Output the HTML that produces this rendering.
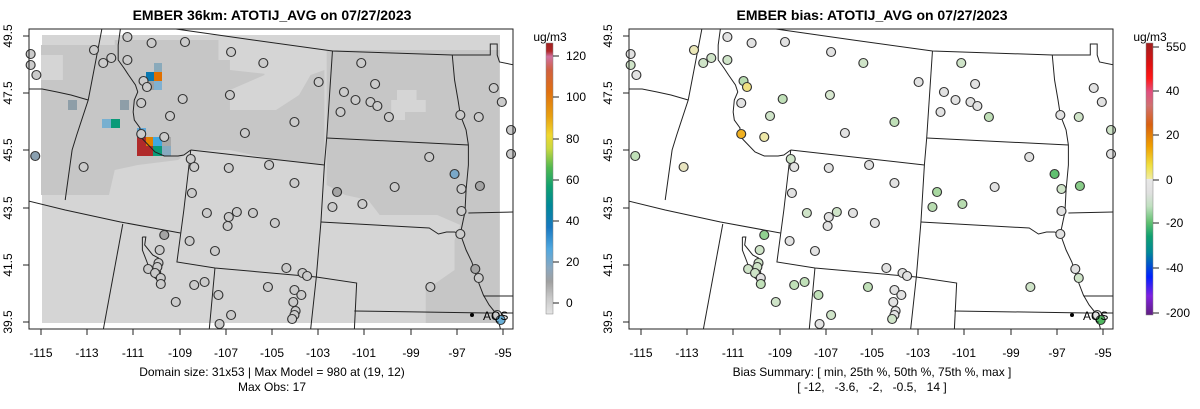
<!DOCTYPE html>
<html><head><meta charset="utf-8"><style>
body{margin:0;background:#fff;}
svg{display:block;font-family:"Liberation Sans",sans-serif;}
</style></head><body>
<svg width="1200" height="409" viewBox="0 0 1200 409" xmlns="http://www.w3.org/2000/svg">
<defs>
<clipPath id="cl"><rect x="25.6" y="29" width="420" height="300"/></clipPath>
<linearGradient id="g1" x1="0" y1="1" x2="0" y2="0">
<stop offset="0" stop-color="#e4e4e4"/><stop offset="0.06" stop-color="#c8c8c8"/><stop offset="0.12" stop-color="#a0a0a0"/>
<stop offset="0.17" stop-color="#8aa8c0"/><stop offset="0.24" stop-color="#50a8e0"/><stop offset="0.32" stop-color="#1878c0"/>
<stop offset="0.4" stop-color="#008898"/><stop offset="0.47" stop-color="#10a070"/><stop offset="0.54" stop-color="#50b850"/>
<stop offset="0.61" stop-color="#c8d840"/><stop offset="0.66" stop-color="#f0d830"/><stop offset="0.73" stop-color="#e8a010"/>
<stop offset="0.82" stop-color="#e07010"/><stop offset="0.9" stop-color="#d06040"/><stop offset="0.95" stop-color="#d070a0"/>
<stop offset="0.97" stop-color="#b02828"/><stop offset="1" stop-color="#a02020"/></linearGradient>
<linearGradient id="g2" x1="0" y1="0" x2="0" y2="1">
<stop offset="0" stop-color="#a02020"/><stop offset="0.08" stop-color="#e01010"/><stop offset="0.13" stop-color="#ff1818"/>
<stop offset="0.18" stop-color="#e05080"/><stop offset="0.23" stop-color="#d07070"/><stop offset="0.3" stop-color="#d86010"/>
<stop offset="0.38" stop-color="#f0a000"/><stop offset="0.45" stop-color="#f0e040"/><stop offset="0.5" stop-color="#f0eca0"/>
<stop offset="0.5" stop-color="#e8e8e8"/><stop offset="0.55" stop-color="#e0e0e0"/><stop offset="0.6" stop-color="#c0e0c0"/>
<stop offset="0.66" stop-color="#60c070"/><stop offset="0.71" stop-color="#10a070"/><stop offset="0.77" stop-color="#008898"/>
<stop offset="0.86" stop-color="#0020ff"/><stop offset="0.93" stop-color="#8020e0"/><stop offset="1" stop-color="#602080"/></linearGradient>
<g id="lines" fill="none" stroke="#222" stroke-width="1" clip-path="url(#cl)">
<polyline vector-effect="non-scaling-stroke" points="147,28 220,40 289,51 393,55 426,55 426,44 432,44 432,55 434,62 447,65"/>
<polyline vector-effect="non-scaling-stroke" points="89,28 77,100 67,135 63,150 57,200"/>
<polyline vector-effect="non-scaling-stroke" points="25,89 37,89 50,92 62,95 77,100"/>
<polyline vector-effect="non-scaling-stroke" points="105,28 103,45 103,60 108,68 112,75 118,85 120,92 117,100 116,112 117,120 122,128 121,135 125,140 130,146 135,152 143,156 155,156 160,155 166,150"/>
<polyline vector-effect="non-scaling-stroke" points="25,201 57,210 105,222 157,233"/>
<polyline vector-effect="non-scaling-stroke" points="107,224 90,330"/>
<polyline vector-effect="non-scaling-stroke" points="166,150 282,165"/>
<polyline vector-effect="non-scaling-stroke" points="289,51 284,138 282,165 279,222 275,277 270,330"/>
<polyline vector-effect="non-scaling-stroke" points="166,150 160,210 154,262 187,268 275,277 310,283 308,330"/>
<polyline vector-effect="non-scaling-stroke" points="187,268 182,330"/>
<polyline vector-effect="non-scaling-stroke" points="284,138 407,145"/>
<polyline vector-effect="non-scaling-stroke" points="279,222 373,228 381,234 388,232 395,232 400,234"/>
<polyline vector-effect="non-scaling-stroke" points="393,55 395,80 398,100 400,115 405,130 407,145 407,165 405,190 404,212 400,234 405,250 410,262 415,280 420,295 425,305 432,315 435,330"/>
<polyline vector-effect="non-scaling-stroke" points="407,213 447,212"/>
<polyline vector-effect="non-scaling-stroke" points="420,296 447,296"/>
<polyline vector-effect="non-scaling-stroke" points="308,311 423,313 447,313"/>
<polyline vector-effect="non-scaling-stroke" points="124,237 127,237 126,245 133,255 138,258 136,265 140,272 137,280 132,275 128,262 124,250 124,237"/>
</g>
</defs>

<text x="272" y="20" font-size="14" font-weight="bold" text-anchor="middle">EMBER 36km: ATOTIJ_AVG on 07/27/2023</text>
<text x="872" y="20" font-size="14" font-weight="bold" text-anchor="middle">EMBER bias: ATOTIJ_AVG on 07/27/2023</text>

<!-- LEFT raster -->
<rect x="42" y="35" width="458" height="288" fill="#d5d5d5"/>
<g transform="translate(41,0) scale(1.152,1) translate(-36,0)" clip-path="url(#cl)">
<polygon fill="#c6c6c6" points="36,45 100,45 100,40 190,40 190,60 230,60 230,75 200,90 200,110 240,110 260,95 270,75 282,70 282,165 240,160 200,150 166,150 155,160 120,165 100,170 95,195 36,195"/>
<polygon fill="#d5d5d5" points="36,55 55,55 55,80 36,80"/>
<polygon fill="#d5d5d5" points="200,40 280,40 280,60 240,75 200,70"/>
<polygon fill="#c6c6c6" points="284,50 434,50 434,323 370,323 370,290 395,270 395,240 400,225 380,215 330,215 320,200 300,195 284,185"/>
<polygon fill="#d5d5d5" points="345,90 362,90 362,100 370,100 370,112 352,112 352,120 340,120 340,100 345,100"/>
</g>
<g>
<rect x="120" y="100" width="9" height="10" fill="#8e9ea8"/>
<rect x="146" y="72" width="8" height="9" fill="#0a78b0"/>
<rect x="154" y="72" width="8" height="9" fill="#e07000"/>
<rect x="154" y="81" width="8" height="9" fill="#80b0d0"/>
<rect x="154" y="63" width="8" height="9" fill="#8aaabb"/>
<rect x="146" y="81" width="8" height="9" fill="#a0a0a0"/>
<rect x="68" y="100" width="9" height="10" fill="#8e9ea8"/>
<rect x="102" y="119" width="9" height="9" fill="#78b0d0"/>
<rect x="111" y="119" width="9" height="9" fill="#0a9a78"/>
<rect x="137" y="128" width="9" height="9" fill="#60a8d8"/>
<rect x="137" y="137" width="16" height="19" fill="#b02a2a"/>
<rect x="146" y="137" width="7" height="9" fill="#e08000"/>
<rect x="153" y="137" width="9" height="9" fill="#40a8e0"/>
<rect x="153" y="146" width="9" height="10" fill="#0a9a78"/>
<rect x="162" y="146" width="9" height="10" fill="#88aac0"/>
<rect x="162" y="137" width="9" height="9" fill="#a8a8a8"/>
</g>
<g transform="translate(41,0) scale(1.152,1) translate(-36,0)">
<use href="#lines"/>
<g stroke="#333" fill="#cbcbcb" vector-effect="non-scaling-stroke">
<ellipse cx="111" cy="37" rx="3.9" ry="4.5"/><ellipse cx="132" cy="43" rx="3.9" ry="4.5"/><ellipse cx="161" cy="42" rx="3.9" ry="4.5"/><ellipse cx="82" cy="50" rx="3.9" ry="4.5"/>
<ellipse cx="97" cy="58" rx="3.9" ry="4.5"/><ellipse cx="90" cy="63" rx="3.9" ry="4.5"/><ellipse cx="111" cy="60" rx="3.9" ry="4.5"/><ellipse cx="201" cy="52" rx="3.9" ry="4.5"/>
<ellipse cx="229" cy="63" rx="3.9" ry="4.5"/><ellipse cx="27" cy="54" rx="3.9" ry="4.5"/><ellipse cx="27" cy="65" rx="3.9" ry="4.5"/><ellipse cx="32" cy="75" rx="3.9" ry="4.5"/>
<ellipse cx="125" cy="81" rx="3.9" ry="4.5"/><ellipse cx="128" cy="87" rx="3.9" ry="4.5"/><ellipse cx="123" cy="103" rx="3.9" ry="4.5"/><ellipse cx="159" cy="99" rx="3.9" ry="4.5"/>
<ellipse cx="200" cy="95" rx="3.9" ry="4.5"/><ellipse cx="148" cy="116" rx="3.9" ry="4.5"/><ellipse cx="277" cy="82" rx="3.9" ry="4.5"/><ellipse cx="314" cy="63" rx="3.9" ry="4.5"/>
<ellipse cx="326" cy="84" rx="3.9" ry="4.5"/><ellipse cx="299" cy="92" rx="3.9" ry="4.5"/><ellipse cx="309" cy="100" rx="3.9" ry="4.5"/><ellipse cx="322" cy="102" rx="3.9" ry="4.5"/>
<ellipse cx="328" cy="106" rx="3.9" ry="4.5"/><ellipse cx="296" cy="112" rx="3.9" ry="4.5"/><ellipse cx="338" cy="117" rx="3.9" ry="4.5"/><ellipse cx="256" cy="122" rx="3.9" ry="4.5"/>
<ellipse cx="213" cy="133" rx="3.9" ry="4.5"/><ellipse cx="123" cy="134" rx="3.9" ry="4.5"/><ellipse cx="143" cy="137" rx="3.9" ry="4.5"/><ellipse cx="31" cy="156" rx="3.9" ry="4.5" fill="#8aa0b0"/>
<ellipse cx="73" cy="167" rx="3.9" ry="4.5"/><ellipse cx="166" cy="159" rx="3.9" ry="4.5"/><ellipse cx="169" cy="167" rx="3.9" ry="4.5"/><ellipse cx="199" cy="168" rx="3.9" ry="4.5"/>
<ellipse cx="234" cy="165" rx="3.9" ry="4.5"/><ellipse cx="256" cy="183" rx="3.9" ry="4.5"/><ellipse cx="167" cy="193" rx="3.9" ry="4.5"/><ellipse cx="373" cy="157" rx="3.9" ry="4.5"/>
<ellipse cx="395" cy="174" rx="3.9" ry="4.5" fill="#7aa8c8"/><ellipse cx="417" cy="186" rx="3.9" ry="4.5" fill="#a4a4a4"/><ellipse cx="401" cy="189" rx="3.9" ry="4.5"/><ellipse cx="343" cy="187" rx="3.9" ry="4.5"/>
<ellipse cx="293" cy="192" rx="3.9" ry="4.5" fill="#a4a4a4"/><ellipse cx="315" cy="204" rx="3.9" ry="4.5"/><ellipse cx="289" cy="207" rx="3.9" ry="4.5"/><ellipse cx="401" cy="211" rx="3.9" ry="4.5"/>
<ellipse cx="400" cy="234" rx="3.9" ry="4.5"/><ellipse cx="429" cy="88" rx="3.9" ry="4.5"/><ellipse cx="436" cy="102" rx="3.9" ry="4.5"/><ellipse cx="400" cy="115" rx="3.9" ry="4.5"/>
<ellipse cx="416" cy="117" rx="3.9" ry="4.5"/><ellipse cx="444" cy="130" rx="3.9" ry="4.5"/><ellipse cx="444" cy="154" rx="3.9" ry="4.5"/><ellipse cx="180" cy="213" rx="3.9" ry="4.5"/>
<ellipse cx="199" cy="217" rx="3.9" ry="4.5"/><ellipse cx="206" cy="212" rx="3.9" ry="4.5"/><ellipse cx="220" cy="213" rx="3.9" ry="4.5"/><ellipse cx="198" cy="226" rx="3.9" ry="4.5"/>
<ellipse cx="239" cy="223" rx="3.9" ry="4.5"/><ellipse cx="143" cy="235" rx="3.9" ry="4.5" fill="#a4a4a4"/><ellipse cx="165" cy="241" rx="3.9" ry="4.5"/><ellipse cx="187" cy="251" rx="3.9" ry="4.5"/>
<ellipse cx="139" cy="250" rx="3.9" ry="4.5"/><ellipse cx="138" cy="263" rx="3.9" ry="4.5"/><ellipse cx="137" cy="267" rx="3.9" ry="4.5"/><ellipse cx="129" cy="269" rx="3.9" ry="4.5"/>
<ellipse cx="135" cy="273" rx="3.9" ry="4.5"/><ellipse cx="140" cy="278" rx="3.9" ry="4.5"/><ellipse cx="140" cy="284" rx="3.9" ry="4.5"/><ellipse cx="249" cy="268" rx="3.9" ry="4.5"/>
<ellipse cx="263" cy="273" rx="3.9" ry="4.5"/><ellipse cx="267" cy="276" rx="3.9" ry="4.5"/><ellipse cx="169" cy="285" rx="3.9" ry="4.5"/><ellipse cx="178" cy="282" rx="3.9" ry="4.5"/>
<ellipse cx="153" cy="302" rx="3.9" ry="4.5"/><ellipse cx="190" cy="295" rx="3.9" ry="4.5"/><ellipse cx="233" cy="287" rx="3.9" ry="4.5"/><ellipse cx="256" cy="290" rx="3.9" ry="4.5"/>
<ellipse cx="262" cy="295" rx="3.9" ry="4.5"/><ellipse cx="255" cy="302" rx="3.9" ry="4.5"/><ellipse cx="257" cy="311" rx="3.9" ry="4.5"/><ellipse cx="256" cy="315" rx="3.9" ry="4.5"/>
<ellipse cx="254" cy="319" rx="3.9" ry="4.5"/><ellipse cx="201" cy="315" rx="3.9" ry="4.5"/><ellipse cx="191" cy="324" rx="3.9" ry="4.5"/><ellipse cx="374" cy="287" rx="3.9" ry="4.5"/>
<ellipse cx="413" cy="269" rx="3.9" ry="4.5" fill="#a4a4a4"/><ellipse cx="416" cy="278" rx="3.9" ry="4.5"/><ellipse cx="432" cy="315" rx="3.9" ry="4.5"/><ellipse cx="435" cy="320" rx="3.9" ry="4.5" fill="#6ab0d8"/>
</g></g>
<rect x="29" y="29" width="484" height="300" fill="none" stroke="#222" stroke-width="1"/>
<circle cx="472" cy="315" r="2" fill="#000"/>
<text x="483" y="320" font-size="12">AQS</text>

<!-- RIGHT -->
<g transform="translate(641,0) scale(1.152,1) translate(-36,0)">
<use href="#lines"/>
<g stroke="#333" fill="#e2e2e2" vector-effect="non-scaling-stroke">
<ellipse cx="111" cy="37" rx="3.9" ry="4.5"/><ellipse cx="132" cy="43" rx="3.9" ry="4.5"/><ellipse cx="161" cy="42" rx="3.9" ry="4.5"/><ellipse cx="82" cy="50" rx="3.9" ry="4.5" fill="#ece8b8"/>
<ellipse cx="97" cy="58" rx="3.9" ry="4.5" fill="#cfe4c8"/><ellipse cx="90" cy="63" rx="3.9" ry="4.5" fill="#cfe4c8"/><ellipse cx="111" cy="60" rx="3.9" ry="4.5" fill="#cfe4c8"/><ellipse cx="201" cy="52" rx="3.9" ry="4.5"/>
<ellipse cx="229" cy="63" rx="3.9" ry="4.5" fill="#cfe4c8"/><ellipse cx="27" cy="54" rx="3.9" ry="4.5"/><ellipse cx="27" cy="65" rx="3.9" ry="4.5" fill="#cfe4c8"/><ellipse cx="32" cy="75" rx="3.9" ry="4.5"/>
<ellipse cx="125" cy="81" rx="3.9" ry="4.5" fill="#b8dcb0"/><ellipse cx="128" cy="87" rx="3.9" ry="4.5" fill="#f0e080"/><ellipse cx="123" cy="103" rx="3.9" ry="4.5"/><ellipse cx="159" cy="99" rx="3.9" ry="4.5" fill="#c0e0b8"/>
<ellipse cx="200" cy="95" rx="3.9" ry="4.5" fill="#d8e8d0"/><ellipse cx="148" cy="116" rx="3.9" ry="4.5" fill="#cfe4c8"/><ellipse cx="277" cy="82" rx="3.9" ry="4.5"/><ellipse cx="314" cy="63" rx="3.9" ry="4.5" fill="#cfe4c8"/>
<ellipse cx="326" cy="84" rx="3.9" ry="4.5"/><ellipse cx="299" cy="92" rx="3.9" ry="4.5"/><ellipse cx="309" cy="100" rx="3.9" ry="4.5"/><ellipse cx="322" cy="102" rx="3.9" ry="4.5"/>
<ellipse cx="328" cy="106" rx="3.9" ry="4.5"/><ellipse cx="296" cy="112" rx="3.9" ry="4.5"/><ellipse cx="338" cy="117" rx="3.9" ry="4.5" fill="#c0e0b8"/><ellipse cx="256" cy="122" rx="3.9" ry="4.5" fill="#c0e0b8"/>
<ellipse cx="213" cy="133" rx="3.9" ry="4.5"/><ellipse cx="123" cy="134" rx="3.9" ry="4.5" fill="#f0b020"/><ellipse cx="143" cy="137" rx="3.9" ry="4.5" fill="#eee8a8"/><ellipse cx="31" cy="156" rx="3.9" ry="4.5" fill="#c0e0b8"/>
<ellipse cx="73" cy="167" rx="3.9" ry="4.5" fill="#e8e4c0"/><ellipse cx="166" cy="159" rx="3.9" ry="4.5" fill="#cfe4c8"/><ellipse cx="169" cy="167" rx="3.9" ry="4.5"/><ellipse cx="199" cy="168" rx="3.9" ry="4.5"/>
<ellipse cx="234" cy="165" rx="3.9" ry="4.5"/><ellipse cx="256" cy="183" rx="3.9" ry="4.5"/><ellipse cx="167" cy="193" rx="3.9" ry="4.5"/><ellipse cx="373" cy="157" rx="3.9" ry="4.5"/>
<ellipse cx="395" cy="174" rx="3.9" ry="4.5" fill="#60c070"/><ellipse cx="417" cy="186" rx="3.9" ry="4.5" fill="#88cc88"/><ellipse cx="401" cy="189" rx="3.9" ry="4.5" fill="#cfe4c8"/><ellipse cx="343" cy="187" rx="3.9" ry="4.5"/>
<ellipse cx="293" cy="192" rx="3.9" ry="4.5" fill="#a8d8a0"/><ellipse cx="315" cy="204" rx="3.9" ry="4.5" fill="#b8dcb0"/><ellipse cx="289" cy="207" rx="3.9" ry="4.5" fill="#b8dcb0"/><ellipse cx="401" cy="211" rx="3.9" ry="4.5"/>
<ellipse cx="400" cy="234" rx="3.9" ry="4.5"/><ellipse cx="429" cy="88" rx="3.9" ry="4.5"/><ellipse cx="436" cy="102" rx="3.9" ry="4.5"/><ellipse cx="400" cy="115" rx="3.9" ry="4.5"/>
<ellipse cx="416" cy="117" rx="3.9" ry="4.5" fill="#cfe4c8"/><ellipse cx="444" cy="130" rx="3.9" ry="4.5" fill="#cfe4c8"/><ellipse cx="444" cy="154" rx="3.9" ry="4.5"/><ellipse cx="180" cy="213" rx="3.9" ry="4.5" fill="#cfe4c8"/>
<ellipse cx="199" cy="217" rx="3.9" ry="4.5"/><ellipse cx="206" cy="212" rx="3.9" ry="4.5" fill="#cfe4c8"/><ellipse cx="220" cy="213" rx="3.9" ry="4.5"/><ellipse cx="198" cy="226" rx="3.9" ry="4.5"/>
<ellipse cx="239" cy="223" rx="3.9" ry="4.5"/><ellipse cx="143" cy="235" rx="3.9" ry="4.5" fill="#90d090"/><ellipse cx="165" cy="241" rx="3.9" ry="4.5"/><ellipse cx="187" cy="251" rx="3.9" ry="4.5"/>
<ellipse cx="139" cy="250" rx="3.9" ry="4.5" fill="#cfe4c8"/><ellipse cx="138" cy="263" rx="3.9" ry="4.5" fill="#cfe4c8"/><ellipse cx="137" cy="267" rx="3.9" ry="4.5" fill="#cfe4c8"/><ellipse cx="129" cy="269" rx="3.9" ry="4.5" fill="#cfe4c8"/>
<ellipse cx="135" cy="273" rx="3.9" ry="4.5" fill="#cfe4c8"/><ellipse cx="140" cy="278" rx="3.9" ry="4.5"/><ellipse cx="140" cy="284" rx="3.9" ry="4.5" fill="#c0e0b8"/><ellipse cx="249" cy="268" rx="3.9" ry="4.5"/>
<ellipse cx="263" cy="273" rx="3.9" ry="4.5"/><ellipse cx="267" cy="276" rx="3.9" ry="4.5"/><ellipse cx="169" cy="285" rx="3.9" ry="4.5" fill="#c0e0b8"/><ellipse cx="178" cy="282" rx="3.9" ry="4.5" fill="#c0e0b8"/>
<ellipse cx="153" cy="302" rx="3.9" ry="4.5" fill="#cfe4c8"/><ellipse cx="190" cy="295" rx="3.9" ry="4.5" fill="#c0e0b8"/><ellipse cx="233" cy="287" rx="3.9" ry="4.5" fill="#c0e0b8"/><ellipse cx="256" cy="290" rx="3.9" ry="4.5"/>
<ellipse cx="262" cy="295" rx="3.9" ry="4.5"/><ellipse cx="255" cy="302" rx="3.9" ry="4.5"/><ellipse cx="257" cy="311" rx="3.9" ry="4.5"/><ellipse cx="256" cy="315" rx="3.9" ry="4.5"/>
<ellipse cx="254" cy="319" rx="3.9" ry="4.5" fill="#cfe4c8"/><ellipse cx="201" cy="315" rx="3.9" ry="4.5" fill="#cfe4c8"/><ellipse cx="191" cy="324" rx="3.9" ry="4.5"/><ellipse cx="374" cy="287" rx="3.9" ry="4.5" fill="#cfe4c8"/>
<ellipse cx="413" cy="269" rx="3.9" ry="4.5"/><ellipse cx="416" cy="278" rx="3.9" ry="4.5" fill="#cfe4c8"/><ellipse cx="432" cy="315" rx="3.9" ry="4.5"/><ellipse cx="435" cy="320" rx="3.9" ry="4.5" fill="#50b860"/>
</g></g>
<rect x="629" y="29" width="484" height="300" fill="none" stroke="#222" stroke-width="1"/>
<circle cx="1072" cy="315" r="2" fill="#000"/>
<text x="1083" y="320" font-size="12">AQS</text>

<g stroke="#222" stroke-width="1">
<path d="M23,36H29M23,93H29M23,150H29M23,208H29M23,265H29M23,322H29"/>
<path d="M41,329V335M87,329V335M133,329V335M180,329V335M226,329V335M272,329V335M318,329V335M364,329V335M411,329V335M457,329V335M503,329V335"/>
<path d="M623,36H629M623,93H629M623,150H629M623,208H629M623,265H629M623,322H629"/>
<path d="M641,329V335M687,329V335M733,329V335M780,329V335M826,329V335M872,329V335M918,329V335M964,329V335M1011,329V335M1057,329V335M1103,329V335"/>
</g>
<g font-size="12" text-anchor="middle">
<text transform="translate(12,36) rotate(-90)">49.5</text><text transform="translate(12,93) rotate(-90)">47.5</text>
<text transform="translate(12,150) rotate(-90)">45.5</text><text transform="translate(12,208) rotate(-90)">43.5</text>
<text transform="translate(12,265) rotate(-90)">41.5</text><text transform="translate(12,322) rotate(-90)">39.5</text>
<text transform="translate(612,36) rotate(-90)">49.5</text><text transform="translate(612,93) rotate(-90)">47.5</text>
<text transform="translate(612,150) rotate(-90)">45.5</text><text transform="translate(612,208) rotate(-90)">43.5</text>
<text transform="translate(612,265) rotate(-90)">41.5</text><text transform="translate(612,322) rotate(-90)">39.5</text>
<text x="41" y="357">-115</text><text x="87" y="357">-113</text><text x="133" y="357">-111</text><text x="180" y="357">-109</text>
<text x="226" y="357">-107</text><text x="272" y="357">-105</text><text x="318" y="357">-103</text><text x="364" y="357">-101</text>
<text x="411" y="357">-99</text><text x="457" y="357">-97</text><text x="503" y="357">-95</text>
<text x="641" y="357">-115</text><text x="687" y="357">-113</text><text x="733" y="357">-111</text><text x="780" y="357">-109</text>
<text x="826" y="357">-107</text><text x="872" y="357">-105</text><text x="918" y="357">-103</text><text x="964" y="357">-101</text>
<text x="1011" y="357">-99</text><text x="1057" y="357">-97</text><text x="1103" y="357">-95</text>
<text x="272" y="376">Domain size: 31x53 | Max Model = 980 at (19, 12)</text>
<text x="272" y="391">Max Obs: 17</text>
<text x="872" y="376">Bias Summary: [ min, 25th %, 50th %, 75th %, max ]</text>
<text x="872" y="391" xml:space="preserve">[ -12,   -3.6,   -2,   -0.5,   14 ]</text>
</g>

<text x="550" y="41" font-size="12" text-anchor="middle">ug/m3</text>
<rect x="546" y="43" width="7" height="271" fill="url(#g1)" stroke="#888" stroke-width="0.5"/>
<g stroke="#222"><path d="M553,303H559M553,262H559M553,221H559M553,180H559M553,139H559M553,97H559M553,56H559"/></g>
<g font-size="12"><text x="566" y="307">0</text><text x="566" y="266">20</text><text x="566" y="225">40</text><text x="566" y="184">60</text><text x="566" y="143">80</text><text x="566" y="101">100</text><text x="566" y="60">120</text></g>

<text x="1150" y="41" font-size="12" text-anchor="middle">ug/m3</text>
<rect x="1146" y="43" width="7" height="272" fill="url(#g2)" stroke="#888" stroke-width="0.5"/>
<g stroke="#222"><path d="M1153,47H1159M1153,91H1159M1153,135H1159M1153,180H1159M1153,223H1159M1153,268H1159M1153,313H1159"/></g>
<g font-size="12"><text x="1166" y="51">550</text><text x="1166" y="95">40</text><text x="1166" y="139">20</text><text x="1166" y="184">0</text><text x="1166" y="227">-20</text><text x="1166" y="272">-40</text><text x="1166" y="317">-200</text></g>
</svg>
</body></html>
